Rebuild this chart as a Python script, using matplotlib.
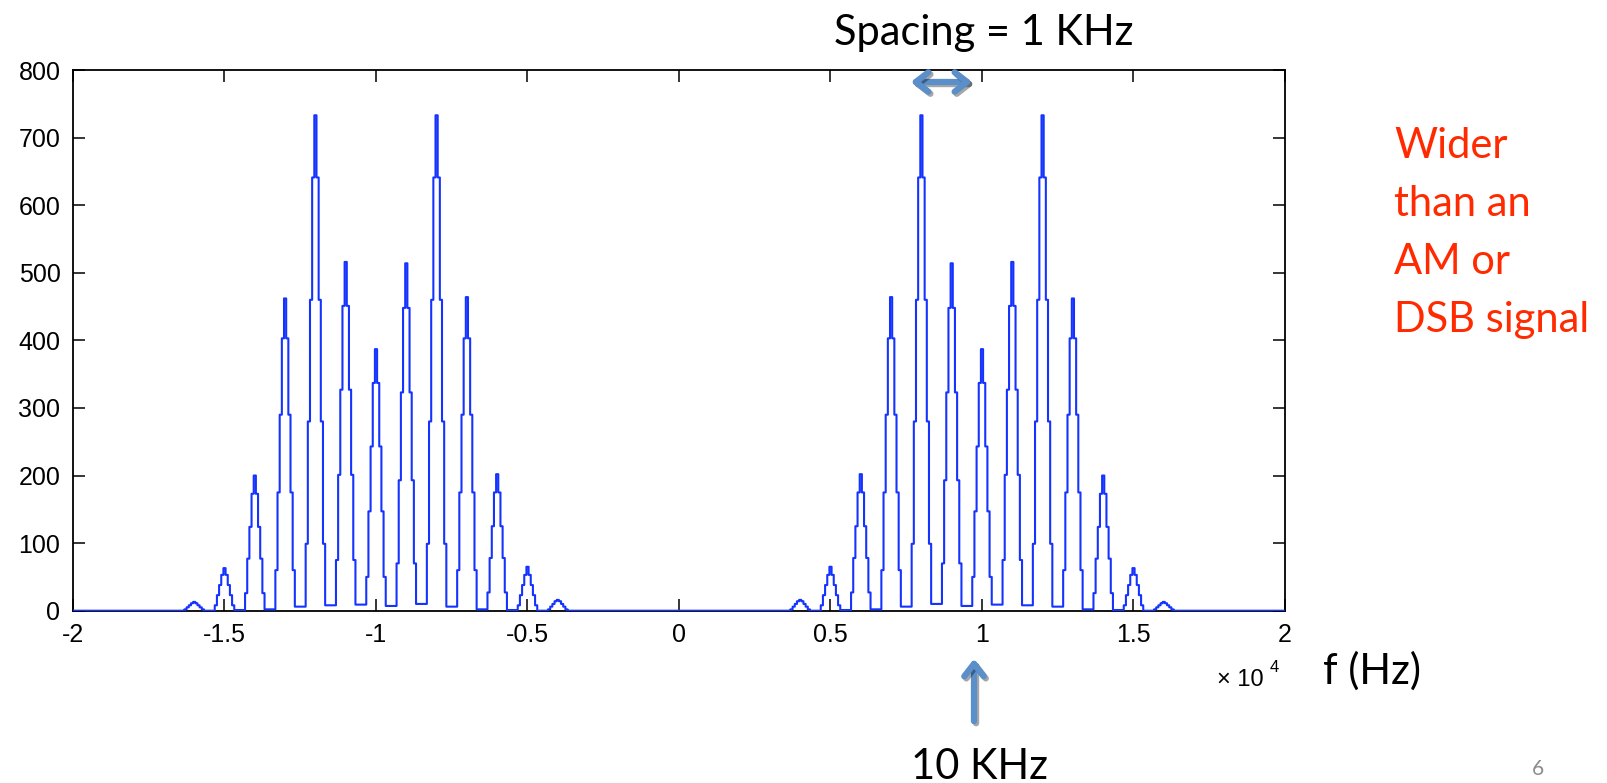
import matplotlib.pyplot as plt
import numpy as np
from matplotlib import patheffects

# spectral lines of the FM signal (positive side, negative side is the mirror)
line_khz = [4, 5, 6, 7, 8, 9, 10, 11, 12, 13, 14, 15, 16]
# level of each line: centre bin, then 1..4 bins away from the centre
line_levels = [
    [16, 14, 10, 6, 2],
    [65, 53, 38, 23, 8],
    [202, 175, 125, 78, 27],
    [464, 403, 290, 175, 60],
    [733, 641, 460, 280, 99],
    [514, 448, 323, 193, 70],
    [387, 337, 243, 147, 50],
    [516, 451, 327, 201, 75],
    [733, 641, 460, 280, 99],
    [462, 403, 290, 175, 60],
    [200, 173, 124, 77, 26],
    [63, 53, 38, 23, 8],
    [13, 11, 8, 5, 2],
]
# floor between neighbouring lines
gap_level = [0, 1, 2, 6, 10, 7, 9, 8, 6, 2, 1, 0]

x_ticks = [-2, -1.5, -1, -0.5, 0, 0.5, 1, 1.5, 2]
x_tick_labels = ["-2", "-1.5", "-1", "-0.5", "0", "0.5", "1", "1.5", "2"]
y_ticks = [0, 100, 200, 300, 400, 500, 600, 700, 800]

bins_per_khz = 14
bin_hz = 1000 / bins_per_khz
k = np.arange(-20 * bins_per_khz, 20 * bins_per_khz + 1)
freq = k * bin_hz
mag = np.zeros(len(k))
mid = 20 * bins_per_khz
for sign in (1, -1):
    for i, (khz, lv) in enumerate(zip(line_khz, line_levels)):
        c = mid + sign * khz * bins_per_khz
        for j, v in enumerate(lv):
            mag[c + j] = v
            mag[c - j] = v
        if i < len(gap_level):
            for j in range(5, bins_per_khz - 4):
                mag[c + sign * j] = gap_level[i]

W, H = 1608, 783


def px(x, y):
    return x / W, 1 - y / H


fig = plt.figure(figsize=(W / 100, H / 100), dpi=100)
ax = fig.add_axes([73 / W, 1 - 610.7 / H, (1285 - 73) / W, (610.7 - 70) / H])
ax.step(freq, mag, where="mid", color="#1533ff", lw=1.5, zorder=3)
ax.set_xlim(-20000, 20000)
ax.set_ylim(0, 800)
ax.set_xticks([t * 1e4 for t in x_ticks])
ax.set_xticklabels(x_tick_labels)
ax.set_yticks(y_ticks)
ax.tick_params(direction="in", length=8.5, width=1.1, top=True, right=True,
               labelsize=18, pad=9)
for lab in ax.get_xticklabels() + ax.get_yticklabels():
    lab.set_family("Liberation Sans")
for s in ax.spines.values():
    s.set_linewidth(1.3)

fig.text(*px(1217, 686), "\u00d7 10", fontsize=17, family="Liberation Sans", va="baseline")
fig.text(*px(1270, 672), "4", fontsize=12, family="Liberation Sans", va="baseline")

font = "Lato"
fig.text(*px(984, 45), "Spacing = 1 KHz", fontsize=30, family=font, ha="center", va="baseline")
fig.text(*px(980, 779), "10 KHz", fontsize=30, family=font, ha="center", va="baseline")
fig.text(*px(1323, 684), "f (Hz)", fontsize=30, family=font, va="baseline")
red = "#ff2a00"
for i, t in enumerate(["Wider", "than an", "AM or", "DSB signal"]):
    fig.text(*px(1394, 158 + 58 * i), t, fontsize=30, family=font, color=red, va="baseline")
fig.text(*px(1538, 775), "6", fontsize=15, family=font, color="#8c8c8c", ha="center", va="baseline")

arrow_col = "#5b8fca"
shadow = [patheffects.SimpleLineShadow(offset=(1.5, -1.5), alpha=0.35), patheffects.Normal()]
a1 = fig.add_artist(plt.matplotlib.patches.FancyArrowPatch(
    px(908, 82), px(975, 82), transform=fig.transFigure,
    arrowstyle="<->,head_length=9,head_width=7", lw=4.5, color=arrow_col))
a1.set_path_effects(shadow)
a2 = fig.add_artist(plt.matplotlib.patches.FancyArrowPatch(
    px(974, 724), px(974, 656), transform=fig.transFigure,
    arrowstyle="->,head_length=9,head_width=7", lw=4.5, color=arrow_col))
a2.set_path_effects(shadow)

fig.savefig("out.png", dpi=100)
